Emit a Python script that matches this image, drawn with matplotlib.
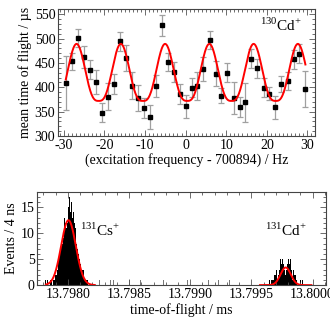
import matplotlib
matplotlib.use('Agg')
import matplotlib.pyplot as plt
import numpy as np
from matplotlib.ticker import MultipleLocator, FormatStrFormatter

plt.rcParams['font.family'] = ['Liberation Serif', 'DejaVu Serif']
plt.rcParams['mathtext.fontset'] = 'custom'
plt.rcParams['mathtext.rm'] = 'Liberation Serif'
plt.rcParams['font.size'] = 10
plt.rcParams['axes.unicode_minus'] = False

# --- top panel: TOF resonance (130Cd+) ---
freq = [-29.5, -28.0, -26.6, -25.1, -23.6, -22.1, -20.6, -19.2, -17.7, -16.2, -14.7,
        -13.3, -11.8, -10.3, -8.8, -7.4, -5.9, -4.4, -2.9, -1.5, 0.0, 1.5, 2.9, 4.4,
        5.9, 7.4, 8.8, 10.3, 11.8, 13.3, 14.7, 16.2, 17.7, 19.2, 20.6, 22.1, 23.6,
        25.1, 26.6, 28.0, 29.5]
tof = [409, 453, 501, 462, 436, 411, 348, 381, 407, 494, 460, 403, 378, 357, 339,
       403, 527, 452, 431, 386, 361, 399, 403, 437, 497, 428, 383, 430, 378, 359,
       369, 459, 439, 399, 387, 359, 407, 413, 457, 469, 396]
tof_err = [55, 18, 18, 22, 20, 25, 20, 27, 20, 19, 27, 28, 27, 20, 25, 23, 22, 19,
           21, 20, 24, 19, 29, 25, 18, 26, 16, 19, 32, 20, 40, 19, 19, 19, 14, 24,
           16, 18, 19, 20, 37]

# fit parameters
fit_min, fit_amp, fit_period, fit_center, fit_pow = 372, 117, 10.9, 0.4, 1.5

# --- bottom panel: TOF spectrum, 4 ns bins ---
bin_w = 4e-6
cs_start = 13.79780
cs_counts = [0, 0, 0, 0, 1, 0, 0, 0, 1, 0,
             0, 1, 0, 0, 1, 0, 1, 1, 0, 2,
             1, 2, 1, 3, 2, 3, 2, 4, 3, 4,
             5, 4, 6, 5, 7, 6, 8, 7, 9, 8,
             10, 9, 11, 13, 10, 12, 14, 11, 16, 12,
             13, 15, 12, 17, 11, 14, 13, 16, 12, 13,
             11, 14, 10, 12, 9, 11, 10, 8, 9, 7,
             8, 6, 7, 5, 6, 4, 5, 3, 4, 3,
             2, 3, 2, 1, 2, 1, 1, 0, 1, 0,
             1, 0, 0, 1, 0, 0, 0, 1, 0, 0]
cd_start = 13.79960
cd_counts = [0, 0, 0, 0, 1, 0, 0, 0, 1, 0,
             0, 1, 0, 1, 0, 1, 1, 0, 1, 2,
             1, 0, 2, 1, 2, 1, 3, 2, 1, 3,
             2, 4, 3, 2, 5, 3, 4, 2, 5, 3,
             4, 6, 3, 5, 2, 4, 3, 6, 4, 3,
             5, 2, 4, 3, 5, 2, 3, 4, 1, 3,
             2, 3, 1, 2, 1, 2, 0, 1, 1, 0,
             1, 0, 1, 0, 0, 1, 0, 0, 0, 1]
stray_tof = [13.797750, 13.798255, 13.798318, 13.798345, 13.798372,
             13.798400, 13.798502, 13.798590, 13.798679, 13.798780, 13.798883,
             13.798976, 13.798998, 13.799071, 13.799147, 13.799228, 13.799318,
             13.799445]
stray_counts = [1, 1, 1, 1, 1, 1, 1, 1, 1, 1, 1, 1, 1, 1, 1, 1, 1, 1]

# gaussian fits: (amplitude, centre, sigma, from, to)
cs_fit = (12.5, 13.798005, 0.000060, 13.79782, 13.79822)
cd_fit = (3.4, 13.79978, 0.000042, 13.79957, 13.79999)

fig = plt.figure(figsize=(3.3, 3.2), dpi=100)
ax1 = fig.add_axes([0.176, 0.575, 0.779, 0.396])
ax2 = fig.add_axes([0.113, 0.109, 0.875, 0.292])

# top
ax1.errorbar(freq, tof, yerr=tof_err, fmt='s', color='black', ms=2.6,
             ecolor='#a0a0a0', elinewidth=0.9, capsize=2.2, capthick=0.9, zorder=3)
xf = np.linspace(freq[0], freq[-1], 600)
yf = fit_min + fit_amp * ((1 + np.cos(2 * np.pi * (xf - fit_center - fit_period / 2) / fit_period)) / 2) ** fit_pow
ax1.plot(xf, yf, color='red', lw=1.4, zorder=4)
ax1.set_xlim(-31.4, 31.9)
ax1.set_ylim(300, 560)
ax1.xaxis.set_major_locator(MultipleLocator(10))
ax1.xaxis.set_minor_locator(MultipleLocator(1))
ax1.yaxis.set_major_locator(MultipleLocator(50))
ax1.yaxis.set_minor_locator(MultipleLocator(10))
ax1.set_xlabel('(excitation frequency - 700894) / Hz', labelpad=1)
ax1.set_ylabel('mean time of flight / µs', labelpad=2)
ax1.text(0.785, 0.875, r'$^{130}$Cd$^{+}$', transform=ax1.transAxes,
         fontsize=11, va='center')

# bottom
ax2.bar(cs_start + bin_w * np.arange(len(cs_counts)), cs_counts, width=bin_w,
        align='edge', color='black', linewidth=0)
ax2.bar(cd_start + bin_w * np.arange(len(cd_counts)), cd_counts, width=bin_w,
        align='edge', color='black', linewidth=0)
ax2.bar(stray_tof, stray_counts, width=bin_w, align='edge', color='#777777', linewidth=0)
for amp, mu, sig, t0, t1 in (cs_fit, cd_fit):
    tt = np.linspace(t0, t1, 300)
    ax2.plot(tt, amp * np.exp(-0.5 * ((tt - mu) / sig) ** 2), color='red', lw=1.4)
ax2.set_xlim(13.79775, 13.80011)
ax2.set_ylim(0, 18)
ax2.xaxis.set_major_locator(MultipleLocator(0.0005))
ax2.xaxis.set_minor_locator(MultipleLocator(0.0001))
ax2.xaxis.set_major_formatter(FormatStrFormatter('%.4f'))
ax2.yaxis.set_major_locator(MultipleLocator(5))
ax2.yaxis.set_minor_locator(MultipleLocator(1))
ax2.set_xlabel('time-of-flight / ms', labelpad=2)
ax2.set_ylabel('Events / 4 ns', labelpad=2)
ax2.text(13.79810, 10.5, r'$^{131}$Cs$^{+}$', fontsize=11, va='center')
ax2.text(13.79961, 10.5, r'$^{131}$Cd$^{+}$', fontsize=11, va='center')

for ax in (ax1, ax2):
    ax.tick_params(which='both', direction='in', top=True, right=True,
                   width=0.6, color='#555555', pad=2)
    ax.tick_params(which='major', length=4)
    ax.tick_params(which='minor', length=2)
    for s in ax.spines.values():
        s.set_linewidth(0.8)
        s.set_color('#444444')

fig.savefig('out.png', dpi=100)
